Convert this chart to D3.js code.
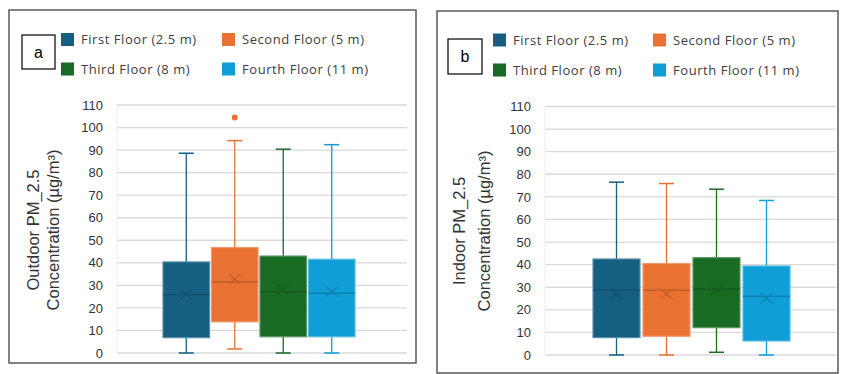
<!DOCTYPE html>
<html><head><meta charset="utf-8">
<script src="https://cdn.jsdelivr.net/npm/d3@7"></script>
<style>body{margin:0;background:#fff}svg{display:block}</style>
</head><body>
<svg id="chart" width="841" height="374"></svg>
<script>
// ---- data ----
const series = ["First Floor (2.5 m)", "Second Floor (5 m)", "Third Floor (8 m)", "Fourth Floor (11 m)"];
const colors = ["#156082", "#E97132", "#196B24", "#0F9ED5"];
const yTicks = [0,10,20,30,40,50,60,70,80,90,100,110];
const panelLabels = ["a", "b"];
const yTitlesLine1 = ["Outdoor PM_2.5", "Indoor PM_2.5"];
const yTitleLine2 = "Concentration (µg/m³)";

const outdoorMin    = [0, 1.8, 0, 0];
const outdoorQ1     = [6.8, 13.8, 7.2, 7.2];
const outdoorMedian = [25.9, 31.5, 27.1, 26.5];
const outdoorQ3     = [40.4, 46.8, 43.0, 41.6];
const outdoorMax    = [88.6, 94.2, 90.4, 92.4];
const outdoorMean   = [26.1, 32.8, 28.0, 27.3];
const outdoorOutliers = [[], [104.5], [], []];

const indoorMin    = [0, 0, 1.2, 0];
const indoorQ1     = [7.7, 8.3, 12.1, 6.2];
const indoorMedian = [28.7, 28.7, 29.2, 26.0];
const indoorQ3     = [42.5, 40.5, 43.1, 39.4];
const indoorMax    = [76.5, 75.9, 73.4, 68.4];
const indoorMean   = [27.0, 27.0, 28.8, 25.1];
const indoorOutliers = [[], [], [], []];

// ---- layout ----
const panels = [
  {frame:[9,10,416,363], plot:[117,105,407,353], group:[163,355], pad:0.04,
   labelBox:[22,35,33,34], legX:[61,222], legY:[39.5,69],
   titleX:[33,53], titleY:230,
   data:{min:outdoorMin,q1:outdoorQ1,med:outdoorMedian,q3:outdoorQ3,max:outdoorMax,mean:outdoorMean,out:outdoorOutliers}},
  {frame:[437,11,838,373], plot:[545,106.5,836,355], group:[593,790], pad:0.06,
   labelBox:[448,39,34,35], legX:[493,653], legY:[40,70],
   titleX:[459,484], titleY:231,
   data:{min:indoorMin,q1:indoorQ1,med:indoorMedian,q3:indoorQ3,max:indoorMax,mean:indoorMean,out:indoorOutliers}}
];

const svg = d3.select("#chart");

function shade(c, k){ return d3.color(c).darker(k).formatHex(); }
function tint(c, k){ return d3.interpolateRgb(c, "#ffffff")(k); }

panels.forEach((p, pi) => {
  const g = svg.append("g");
  // frame
  g.append("rect").attr("x", p.frame[0]).attr("y", p.frame[1])
    .attr("width", p.frame[2]-p.frame[0]).attr("height", p.frame[3]-p.frame[1])
    .attr("fill", "#fff").attr("stroke", "#595959").attr("stroke-width", 1.5);

  const y = d3.scaleLinear().domain([0,110]).range([p.plot[3], p.plot[1]]);
  const x = d3.scaleBand().domain(series).range(p.group).paddingInner(p.pad).paddingOuter(0);

  // gridlines
  g.append("g").selectAll("line").data(yTicks).join("line")
    .attr("x1", p.plot[0]).attr("x2", p.plot[2])
    .attr("y1", d => y(d)).attr("y2", d => y(d))
    .attr("stroke", "#d9d9d9").attr("stroke-width", 1.3);
  g.append("line").attr("x1", p.plot[0]).attr("x2", p.plot[0])
    .attr("y1", p.plot[1]).attr("y2", p.plot[3])
    .attr("stroke", "#ececec").attr("stroke-width", 1);

  // y axis labels
  const axis = d3.axisLeft(y).tickValues(yTicks).tickSize(0).tickPadding(0);
  const ag = g.append("g").attr("transform", `translate(${p.plot[0]-14},0)`).call(axis);
  ag.select(".domain").remove();
  ag.selectAll("text").attr("font-family", "Liberation Sans, Arial, sans-serif")
    .attr("font-size", 13).attr("fill", "#333");

  // y title
  const tg = g.append("g").attr("font-family", "Liberation Sans, Arial, sans-serif")
    .attr("font-size", 16.5).attr("fill", "#333").attr("text-anchor", "middle");
  [yTitlesLine1[pi], yTitleLine2].forEach((t, i) => {
    tg.append("text").attr("transform", `translate(${p.titleX[i]},${p.titleY}) rotate(-90)`)
      .attr("dy", "0.35em").text(t);
  });

  // boxes
  const d = p.data;
  series.forEach((s, i) => {
    const c = colors[i];
    const x0 = x(s), bw = x.bandwidth(), cx = x0 + bw/2;
    const capW = 15;
    const bg = g.append("g");
    // whiskers
    bg.append("line").attr("x1", cx).attr("x2", cx).attr("y1", y(d.q3[i])).attr("y2", y(d.max[i]))
      .attr("stroke", c).attr("stroke-width", 1.3);
    bg.append("line").attr("x1", cx).attr("x2", cx).attr("y1", y(d.q1[i])).attr("y2", y(d.min[i]))
      .attr("stroke", c).attr("stroke-width", 1.3);
    bg.append("line").attr("x1", cx-capW/2).attr("x2", cx+capW/2).attr("y1", y(d.max[i])).attr("y2", y(d.max[i]))
      .attr("stroke", c).attr("stroke-width", 1.5);
    bg.append("line").attr("x1", cx-capW/2).attr("x2", cx+capW/2).attr("y1", y(d.min[i])).attr("y2", y(d.min[i]))
      .attr("stroke", c).attr("stroke-width", 1.5);
    // box
    bg.append("rect").attr("x", x0).attr("y", y(d.q3[i]))
      .attr("width", bw).attr("height", y(d.q1[i]) - y(d.q3[i]))
      .attr("fill", c).attr("stroke", tint(c, 0.3)).attr("stroke-width", 1.2);
    // median
    bg.append("line").attr("x1", x0).attr("x2", x0+bw).attr("y1", y(d.med[i])).attr("y2", y(d.med[i]))
      .attr("stroke", shade(c, 0.6)).attr("stroke-width", 1.3);
    // mean X
    const my = y(d.mean[i]), hw = 6, hh = 5;
    bg.append("path").attr("d", `M${cx-hw},${my-hh}L${cx+hw},${my+hh}M${cx-hw},${my+hh}L${cx+hw},${my-hh}`)
      .attr("stroke", shade(c, 0.5)).attr("stroke-width", 1.2).attr("fill", "none");
    // outliers
    bg.selectAll("circle").data(d.out[i]).join("circle")
      .attr("cx", cx).attr("cy", v => y(v)).attr("r", 3).attr("fill", c);
  });

  // panel label box
  const lb = p.labelBox;
  g.append("rect").attr("x", lb[0]).attr("y", lb[1]).attr("width", lb[2]).attr("height", lb[3])
    .attr("fill", "#fff").attr("stroke", "#000").attr("stroke-width", 1.2);
  g.append("text").attr("x", lb[0]+lb[2]/2).attr("y", lb[1]+lb[3]/2).attr("dy", "0.35em")
    .attr("text-anchor", "middle").attr("font-family", "Liberation Sans, Arial, sans-serif")
    .attr("font-size", 16).attr("fill", "#000").text(panelLabels[pi]);

  // legend
  series.forEach((s, i) => {
    const lx = p.legX[i % 2], ly = p.legY[Math.floor(i/2)];
    g.append("rect").attr("x", lx).attr("y", ly-6.5).attr("width", 13).attr("height", 13)
      .attr("fill", colors[i]);
    g.append("text").attr("x", lx+20).attr("y", ly).attr("dy", "0.35em")
      .attr("font-family", "Open Sans, sans-serif").attr("font-size", 13)
      .attr("letter-spacing", 0.55)
      .attr("fill", "#404040").text(s);
  });
});
</script>
</body></html>
